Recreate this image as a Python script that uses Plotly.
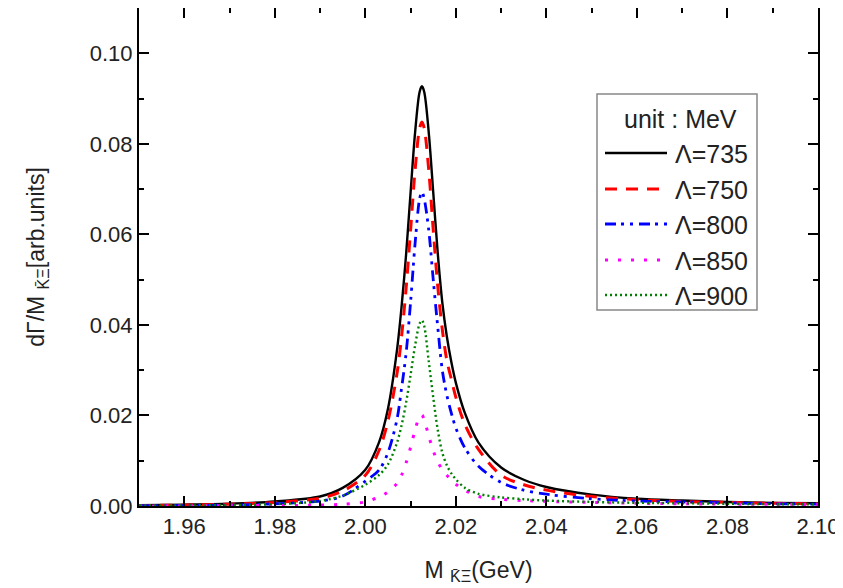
import plotly.graph_objects as go

# Invariant mass (GeV)
mass = [1.95, 1.96, 1.97, 1.98, 1.99, 1.995, 2.000, 2.003, 2.005, 2.007, 2.008, 2.009,
        2.010, 2.011, 2.012, 2.0125, 2.013, 2.014, 2.015, 2.016, 2.017, 2.018,
        2.019, 2.020, 2.022, 2.025, 2.030, 2.035, 2.040, 2.050, 2.060, 2.070,
        2.080, 2.090, 2.100]

lam_735 = [0.0002, 0.0003, 0.0005, 0.0010, 0.0021, 0.0040, 0.0080, 0.0140, 0.0215, 0.0345, 0.0440, 0.0555,
           0.0693, 0.0826, 0.0915, 0.0927, 0.0915, 0.0826, 0.0693, 0.0558, 0.0450, 0.0375,
           0.0318, 0.0272, 0.0205, 0.0140, 0.0085, 0.0058, 0.0042, 0.0025, 0.0016, 0.0012,
           0.0009, 0.0007, 0.0006]

lam_750 = [0.0001, 0.0002, 0.0004, 0.0008, 0.0017, 0.0033, 0.0068, 0.0122, 0.0188, 0.0293, 0.0374, 0.0480,
           0.0610, 0.0743, 0.0835, 0.0848, 0.0835, 0.0743, 0.0610, 0.0485, 0.0390, 0.0322,
           0.0280, 0.0240, 0.0180, 0.0125, 0.0068, 0.0047, 0.0035, 0.0021, 0.0014, 0.0010,
           0.0008, 0.0006, 0.0005]

lam_800 = [0.0001, 0.0001, 0.0002, 0.0005, 0.0011, 0.0022, 0.0055, 0.0079, 0.0118, 0.0192, 0.0260, 0.0337,
           0.0451, 0.0581, 0.0679, 0.0694, 0.0679, 0.0610, 0.0500, 0.0395, 0.0300, 0.0245,
           0.0205, 0.0172, 0.0128, 0.0088, 0.0052, 0.0035, 0.0026, 0.0016, 0.0011, 0.0009,
           0.0007, 0.0005, 0.0004]

lam_850 = [0.0000, 0.0000, 0.0001, 0.0001, 0.0002, 0.0004, 0.0009, 0.0020, 0.0031, 0.0050, 0.0068, 0.0095,
           0.0130, 0.0168, 0.0198, 0.0201, 0.0190, 0.0155, 0.0122, 0.0098, 0.0080, 0.0068,
           0.0058, 0.0048, 0.0035, 0.0021, 0.0015, 0.0012, 0.0010, 0.0008, 0.0006, 0.0005,
           0.0004, 0.0004, 0.0003]

lam_900 = [0.0001, 0.0001, 0.0002, 0.0004, 0.0011, 0.0023, 0.0047, 0.0068, 0.0092, 0.0140, 0.0178, 0.0228,
           0.0290, 0.0355, 0.0403, 0.0410, 0.0398, 0.0320, 0.0240, 0.0168, 0.0118, 0.0090,
           0.0072, 0.0059, 0.0040, 0.0027, 0.0019, 0.0015, 0.0012, 0.0009, 0.0007, 0.0006,
           0.0005, 0.0004, 0.0004]

labels = ["Λ=735", "Λ=750", "Λ=800", "Λ=850", "Λ=900"]
legend_title = "unit : MeV"
series = [lam_735, lam_750, lam_800, lam_850, lam_900]
colors = ["#000000", "#ff0000", "#0000ff", "#ff00ff", "#008000"]
dashes = ["solid", "12px,9px", "11px,5px,3px,6px,3px,6px", "3px,10px", "2px,3px"]
widths = [2.4, 3, 2.8, 3, 2.4]

x_ticks = [1.96, 1.98, 2.00, 2.02, 2.04, 2.06, 2.08, 2.10]
y_ticks = [0.00, 0.02, 0.04, 0.06, 0.08, 0.10]

W, H = 843, 588
ML, MR, MT, MB = 131, 33, 0, 90
PW, PH = W - ML - MR, H - MT - MB

def pxx(px):
    return (px - ML) / PW

def pxy(py):
    return (H - MB - py) / PH

fig = go.Figure()
for lab, ys, c, d, w in zip(labels, series, colors, dashes, widths):
    fig.add_trace(go.Scatter(x=mass, y=ys, mode="lines", name=lab, showlegend=False,
                             line=dict(color=c, dash=d, width=w, shape="spline", smoothing=0.9)))

font_main = "Liberation Sans, Arial, sans-serif"

axis_common = dict(
    showline=True, linecolor="black", linewidth=2, mirror="allticks",
    ticks="inside", ticklen=10, tickwidth=1.5, tickcolor="black",
    showgrid=False, zeroline=False, automargin=False,
    tickfont=dict(family=font_main, size=22, color="#222"),
)

fig.update_xaxes(range=[1.95, 2.10], tickvals=x_ticks, tickformat=".2f",
                 minor=dict(ticks="inside", ticklen=5, tickwidth=1.5, dtick=0.01, tick0=1.95, tickcolor="black"),
                 title=dict(text="M <sub>K̄Ξ</sub>(GeV)", standoff=23,
                            font=dict(family=font_main, size=23, color="#222")),
                 **axis_common)
fig.update_yaxes(range=[0, 0.11], tickvals=y_ticks, tickformat=".2f",
                 minor=dict(ticks="inside", ticklen=5, tickwidth=1.5, dtick=0.01, tick0=0, tickcolor="black"),
                 title=dict(text="dΓ/M <sub>K̄Ξ</sub>[arb.units]", standoff=39,
                            font=dict(family=font_main, size=23, color="#222")),
                 **axis_common)

# Legend box drawn in paper coordinates
shapes = [dict(type="rect", xref="paper", yref="paper",
               x0=pxx(589), x1=pxx(749), y0=pxy(302), y1=pxy(86),
               line=dict(color="#888", width=1.5), fillcolor="white", layer="above")]
annotations = [dict(xref="paper", yref="paper", x=pxx(672), y=pxy(111),
                    text=legend_title, showarrow=False, xanchor="center", yanchor="middle",
                    font=dict(family=font_main, size=25, color="#222"))]
row_y = [145, 181, 216, 252, 287]
for lab, c, d, w, ry in zip(labels, colors, dashes, widths, row_y):
    shapes.append(dict(type="line", xref="paper", yref="paper",
                       x0=pxx(597), x1=pxx(659), y0=pxy(ry), y1=pxy(ry),
                       line=dict(color=c, dash=d, width=w), layer="above"))
    annotations.append(dict(xref="paper", yref="paper", x=pxx(665), y=pxy(ry + 1),
                            text=lab, showarrow=False, xanchor="left", yanchor="middle",
                            font=dict(family=font_main, size=25, color="#222")))

fig.update_layout(
    width=W, height=H,
    margin=dict(l=ML, r=MR, t=MT, b=MB),
    plot_bgcolor="white", paper_bgcolor="white",
    shapes=shapes, annotations=annotations,
    showlegend=False,
)

fig.write_html("out.html")
